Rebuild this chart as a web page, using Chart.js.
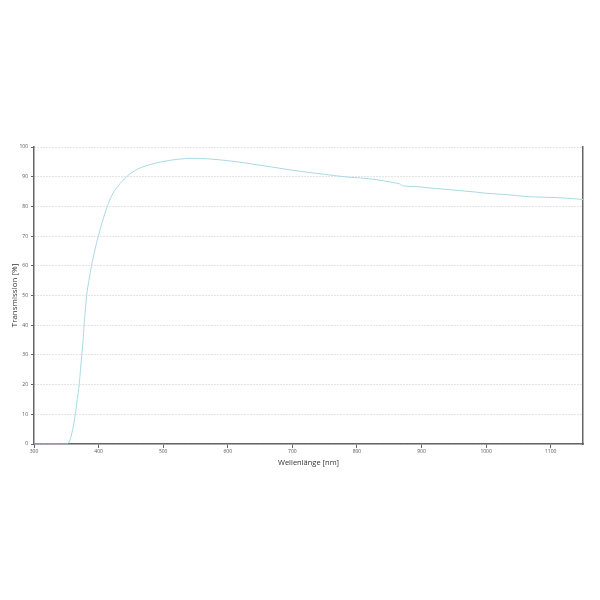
<!DOCTYPE html>
<html>
<head>
<meta charset="utf-8">
<script src="https://cdn.jsdelivr.net/npm/chart.js@4.4.0/dist/chart.umd.min.js"></script>
<style>
  html, body { margin: 0; padding: 0; background: #fff; }
  #wrap { width: 600px; height: 600px; }
</style>
</head>
<body>
<div id="wrap"><canvas id="lineChart" width="600" height="600"></canvas></div>
<script>
// Wavelength [nm] and transmission [%]
const wavelengths = [
    300, 320, 340, 350, 355, 360, 364, 367, 370, 372, 374, 376, 377.5, 379.5, 381.5,
    385, 389, 394, 399.5, 406, 413.5, 420, 430, 443.5, 460, 480, 500, 520, 546,
    570, 600, 634, 670, 712, 750, 789, 805, 830, 856, 866, 872, 890, 908, 935,
    960, 985, 1001, 1030, 1063, 1090, 1114, 1135, 1150
];
const transmission = [
    0, 0, 0, 0, 1, 5, 10, 15, 20, 25, 30, 35, 40, 45, 50,
    55, 60, 65, 70, 75, 80, 83.5, 86.8, 90, 92.5, 94.1, 95.1, 95.8, 96.2,
    96.0, 95.4, 94.4, 93.2, 91.8, 90.8, 89.8, 89.6, 89.0, 88.0, 87.6, 86.9, 86.7, 86.3, 85.8,
    85.3, 84.8, 84.4, 84.0, 83.3, 83.1, 82.9, 82.6, 82.3
];
const xTicks = [300, 400, 500, 600, 700, 800, 900, 1000, 1100];
const yTicks = [0, 10, 20, 30, 40, 50, 60, 70, 80, 90, 100];

const axisColor = '#666666';
const tickFont = { family: 'Open Sans', size: 5 };
const titleFont = { family: 'Open Sans', size: 7.5 };

const ctx = document.getElementById('lineChart').getContext('2d');
new Chart(ctx, {
    type: 'line',
    data: {
        datasets: [{
            label: 'Transmission',
            data: wavelengths.map((w, i) => ({ x: w, y: transmission[i] })),
            borderColor: '#a9d9e6',
            borderWidth: 1,
            pointRadius: 0,
            cubicInterpolationMode: 'monotone',
            fill: false
        }]
    },
    options: {
        responsive: false,
        animation: false,
        layout: { padding: { left: 10, top: 147, right: 17, bottom: 133 } },
        plugins: {
            legend: { display: false },
            tooltip: { enabled: false }
        },
        scales: {
            x: {
                type: 'linear',
                min: 300,
                max: 1150,
                afterBuildTicks: scale => { scale.ticks = xTicks.map(v => ({ value: v })); },
                afterFit: scale => { scale.height = 23; },
                grid: {
                    drawOnChartArea: false,
                    drawTicks: true,
                    tickLength: 4,
                    tickColor: axisColor
                },
                border: { color: axisColor, width: 1.5 },
                ticks: {
                    color: '#555',
                    font: tickFont,
                    padding: 1,
                    maxRotation: 0,
                    callback: v => String(v)
                },
                title: {
                    display: true,
                    text: 'Wellenlänge [nm]',
                    color: '#333',
                    font: titleFont,
                    padding: { top: 0, bottom: 0 }
                }
            },
            y: {
                min: 0,
                max: 100,
                afterBuildTicks: scale => { scale.ticks = yTicks.map(v => ({ value: v })); },
                afterFit: scale => { scale.width = 24; },
                grid: {
                    color: '#c8c8c8',
                    tickLength: 3,
                    tickColor: axisColor,
                    tickBorderDash: []
                },
                border: { color: axisColor, width: 1.5, dash: [1, 2] },
                ticks: { color: '#555', font: tickFont, padding: 3, callback: v => String(v) },
                title: {
                    display: true,
                    text: 'Transmission [%]',
                    color: '#333',
                    font: { family: 'Open Sans', size: 8 },
                    padding: { top: 0, bottom: 0 }
                }
            },
            yRight: {
                position: 'right',
                min: 0,
                max: 100,
                afterFit: scale => { scale.width = 0; },
                grid: { drawOnChartArea: false, drawTicks: false },
                border: { color: axisColor, width: 1.5 },
                ticks: { display: false }
            }
        }
    }
});
</script>
</body>
</html>
